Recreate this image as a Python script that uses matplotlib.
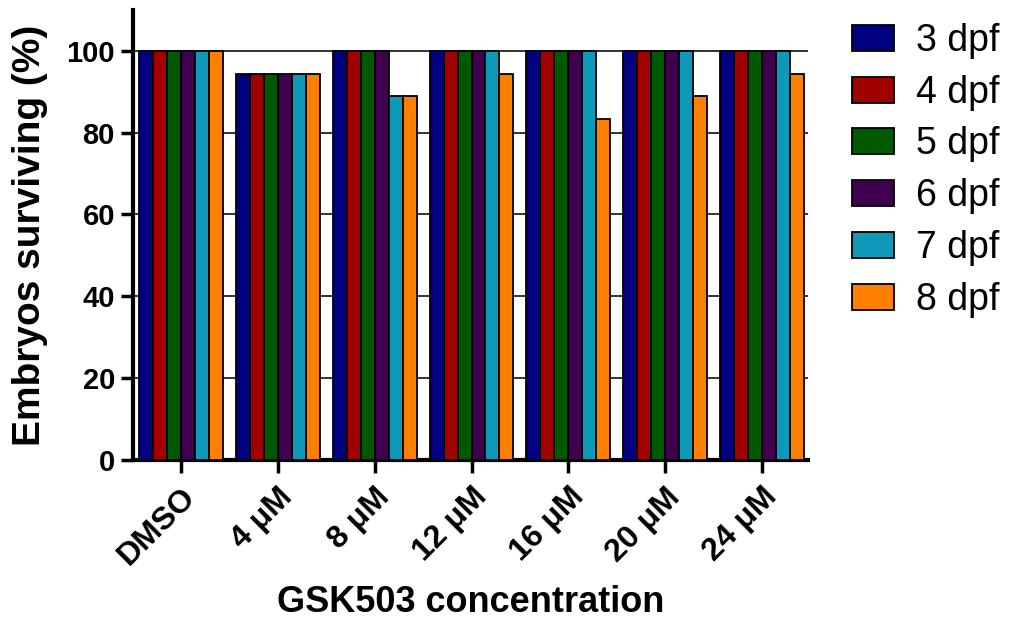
import numpy as np
import matplotlib
matplotlib.use("Agg")
import matplotlib.pyplot as plt

plt.rcParams['font.family'] = ['Liberation Sans', 'DejaVu Sans']

# data
concentrations = ['DMSO', '4 μM', '8 μM', '12 μM', '16 μM', '20 μM', '24 μM']
stages = ['3 dpf', '4 dpf', '5 dpf', '6 dpf', '7 dpf', '8 dpf']
dpf3 = [100, 94.4, 100, 100, 100, 100, 100]
dpf4 = [100, 94.4, 100, 100, 100, 100, 100]
dpf5 = [100, 94.4, 100, 100, 100, 100, 100]
dpf6 = [100, 94.4, 100, 100, 100, 100, 100]
dpf7 = [100, 94.4, 88.9, 100, 100, 100, 100]
dpf8 = [100, 94.4, 88.9, 94.4, 83.3, 88.9, 94.4]
series = [dpf3, dpf4, dpf5, dpf6, dpf7, dpf8]
colors = ['#000080', '#a00000', '#005800', '#400050', '#1098b8', '#ff8000']

fig = plt.figure(figsize=(10.09, 6.21), dpi=100)
ax = fig.add_axes([0.1318, 0.2593, 0.669, 0.7247])

x = np.arange(len(concentrations))
n = len(series)
group_w = 0.865
bw = group_w / n

for i, (vals, c, lab) in enumerate(zip(series, colors, stages)):
    pos = x - group_w / 2 + bw * (i + 0.5)
    ax.bar(pos, vals, width=bw, color=c, edgecolor='black', linewidth=1.3,
           label=lab, zorder=3)

ax.set_xlim(-0.495, len(concentrations) - 1 + 0.474)
ax.set_ylim(0, 110)
ax.set_yticks([0, 20, 40, 60, 80, 100])
ax.yaxis.grid(True, color='#222222', linewidth=1.3, zorder=0)
ax.set_axisbelow(True)

ax.set_xticks(x)
ax.set_xticklabels(concentrations, rotation=45, ha='right',
                   rotation_mode='anchor', fontsize=23, fontweight='bold')
for t in ax.get_yticklabels():
    t.set_fontsize(21)
    t.set_fontweight('bold')

ax.tick_params(axis='both', width=2.5, length=9, direction='out')
ax.tick_params(axis='x', pad=7)
ax.tick_params(axis='y', pad=4)

for s in ['top', 'right']:
    ax.spines[s].set_visible(False)
ax.spines['left'].set_linewidth(3)
ax.spines['bottom'].set_linewidth(3)

ax.set_ylabel('Embryos surviving (%)', fontsize=28, fontweight='bold', labelpad=13)
ax.set_xlabel('GSK503 concentration', fontsize=26, fontweight='bold', labelpad=10)

ax.legend(loc='upper left', bbox_to_anchor=(852 / 1009, 1 - 23 / 621),
          bbox_transform=fig.transFigure, frameon=False,
          fontsize=27, handlelength=1.12, handleheight=0.69,
          labelspacing=0.42, handletextpad=0.6, borderpad=0, borderaxespad=0)

plt.savefig('out.png', dpi=100)
